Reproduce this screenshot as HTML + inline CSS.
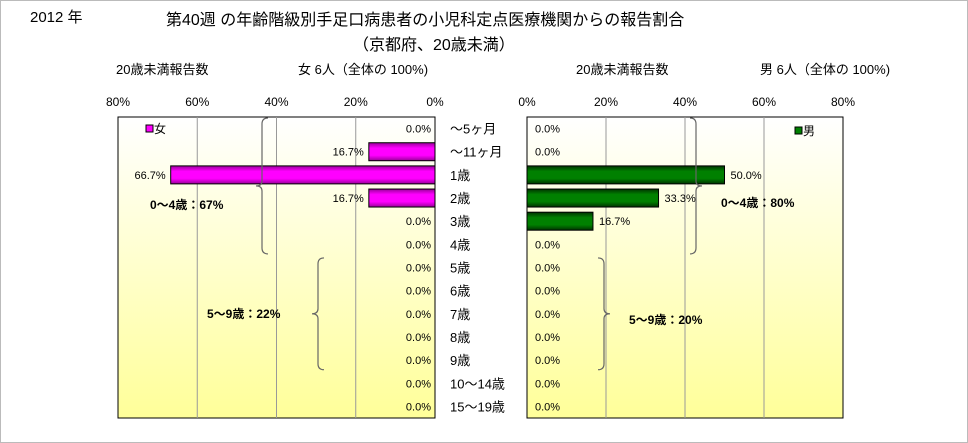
<!DOCTYPE html>
<html><head><meta charset="utf-8"><style>
body{margin:0;background:#fff;}
#root{position:relative;width:968px;height:443px;overflow:hidden;font-family:"Liberation Sans","Noto Sans CJK JP",sans-serif;color:#000;}
.t{position:absolute;white-space:nowrap;}
</style></head><body>
<div id="root">
<div class="t" style="left:30px;top:6px;font-size:15px">2012 年</div>
<div class="t" style="left:166px;top:6px;font-size:16px">第40週 の年齢階級別手足口病患者の小児科定点医療機関からの報告割合</div>
<div class="t" style="left:353px;top:31px;font-size:16px">（京都府、20歳未満）</div>
<div class="t" style="left:116px;top:59px;font-size:13px">20歳未満報告数</div>
<div class="t" style="left:298px;top:59px;font-size:13px">女 6人（全体の 100%)</div>
<div class="t" style="left:576px;top:59px;font-size:13px">20歳未満報告数</div>
<div class="t" style="left:760px;top:59px;font-size:13px">男 6人（全体の 100%)</div>
<svg id="svg" width="968" height="443" style="position:absolute;left:0;top:0">
<defs>
<linearGradient id="bg" x1="0" y1="0" x2="0" y2="1"><stop offset="0" stop-color="#ffffff"/><stop offset="1" stop-color="#ffff99"/></linearGradient>
<linearGradient id="gf" x1="0" y1="0" x2="0" y2="1"><stop offset="0" stop-color="#990099"/><stop offset="0.3" stop-color="#ff00ff"/><stop offset="0.7" stop-color="#ff00ff"/><stop offset="1" stop-color="#990099"/></linearGradient>
<linearGradient id="gm" x1="0" y1="0" x2="0" y2="1"><stop offset="0" stop-color="#003300"/><stop offset="0.3" stop-color="#008000"/><stop offset="0.7" stop-color="#008000"/><stop offset="1" stop-color="#003300"/></linearGradient>
</defs>
</svg>
</div>
<script>
const categories=["〜5ヶ月","〜11ヶ月","1歳","2歳","3歳","4歳","5歳","6歳","7歳","8歳","9歳","10〜14歳","15〜19歳"];
const femaleValues=[0,16.7,66.7,16.7,0,0,0,0,0,0,0,0,0];
const maleValues=[0,0,50.0,33.3,16.7,0,0,0,0,0,0,0,0];
const tickLabels=[0,20,40,60,80];
const groupLabels=["0〜4歳：67%","5〜9歳：22%","0〜4歳：80%","5〜9歳：20%"];
const svg=document.getElementById('svg');const NS='http://www.w3.org/2000/svg';
function mk(tag,attrs,parent){const e=document.createElementNS(NS,tag);for(const k in attrs)e.setAttribute(k,attrs[k]);(parent||svg).appendChild(e);return e;}
const plotTop=117,plotBot=418,rowH=(plotBot-plotTop)/categories.length;
const Lx0=435,Lx80=118,Rx0=527,Rx80=843;
const xL=v=>Lx0-(Lx0-Lx80)*v/80, xR=v=>Rx0+(Rx80-Rx0)*v/80, yR=i=>plotTop+rowH*i;
let e=mk('rect',{x:0.5,y:0.5,width:967,height:442,fill:'none',stroke:'#bbb'});

e=mk('rect',{x:Lx80,y:plotTop,width:Lx0-Lx80,height:plotBot-plotTop,fill:'url(#bg)',stroke:'#000'});

e=mk('rect',{x:Rx0,y:plotTop,width:Rx80-Rx0,height:plotBot-plotTop,fill:'url(#bg)',stroke:'#000'});

tickLabels.forEach(t=>{
 if(t>0&&t<80){
  e=mk('line',{x1:xL(t),x2:xL(t),y1:plotTop,y2:plotBot,stroke:'#999'});
  
  e=mk('line',{x1:xR(t),x2:xR(t),y1:plotTop,y2:plotBot,stroke:'#999'});
  
 }
 e=mk('text',{x:xL(t),y:106,'font-size':12,'text-anchor':'middle'});e.textContent=t+'%';
 
 e=mk('text',{x:xR(t),y:106,'font-size':12,'text-anchor':'middle'});e.textContent=t+'%';
 
});
categories.forEach((c,i)=>{
 const yc=yR(i)+rowH/2;
 e=mk('text',{x:450,y:yc+5,'font-size':13});e.textContent=c;
 
 const fv=femaleValues[i],mv=maleValues[i];
 if(fv>0){e=mk('rect',{x:xL(fv),y:yc-9,width:xL(0)-xL(fv),height:18,fill:'url(#gf)',stroke:'#000'});
  }
 e=mk('text',{x:fv>0?xL(fv)-5:431,y:yc+4,'font-size':11,'text-anchor':'end'});e.textContent=fv.toFixed(1)+'%';
 
 if(mv>0){e=mk('rect',{x:xR(0),y:yc-9,width:xR(mv)-xR(0),height:18,fill:'url(#gm)',stroke:'#000'});
  }
 e=mk('text',{x:mv>0?xR(mv)+6:535,y:yc+4,'font-size':11});e.textContent=mv.toFixed(1)+'%';
 
});
e=mk('rect',{x:146,y:125,width:7,height:7,fill:'#ff00ff',stroke:'#000'});
e=mk('text',{x:154,y:133,'font-size':12});e.textContent='女';
e=mk('rect',{x:795,y:127,width:7,height:7,fill:'#008000',stroke:'#000'});
e=mk('text',{x:803,y:135,'font-size':12});e.textContent='男';
function brace(x,y1,y2,dir){const m=(y1+y2)/2,d=dir*6;
 return `M${x+d},${y1} Q${x},${y1} ${x},${y1+6} L${x},${m-5} Q${x},${m} ${x-d},${m} Q${x},${m} ${x},${m+5} L${x},${y2-6} Q${x},${y2} ${x+d},${y2}`;}
const braces=[[262,yR(0)+1,yR(6)-2,1,'female-0-4-brace'],[318,yR(6)+2,yR(11)-2,1,'female-5-9-brace'],[696,yR(0)+1,yR(6)-2,-1,'male-0-4-brace'],[604,yR(6)+2,yR(11)-2,-1,'male-5-9-brace']];
braces.forEach(b=>{e=mk('path',{d:brace(b[0],b[1],b[2],b[3]),fill:'none',stroke:'#666','stroke-width':1.2});
 });
const gpos=[[150,209],[207,318],[721,207],[629,324]];
groupLabels.forEach((g,i)=>{e=mk('text',{x:gpos[i][0],y:gpos[i][1],'font-size':12,'font-weight':'bold'});e.textContent=g;
 });
</script>
</body></html>
